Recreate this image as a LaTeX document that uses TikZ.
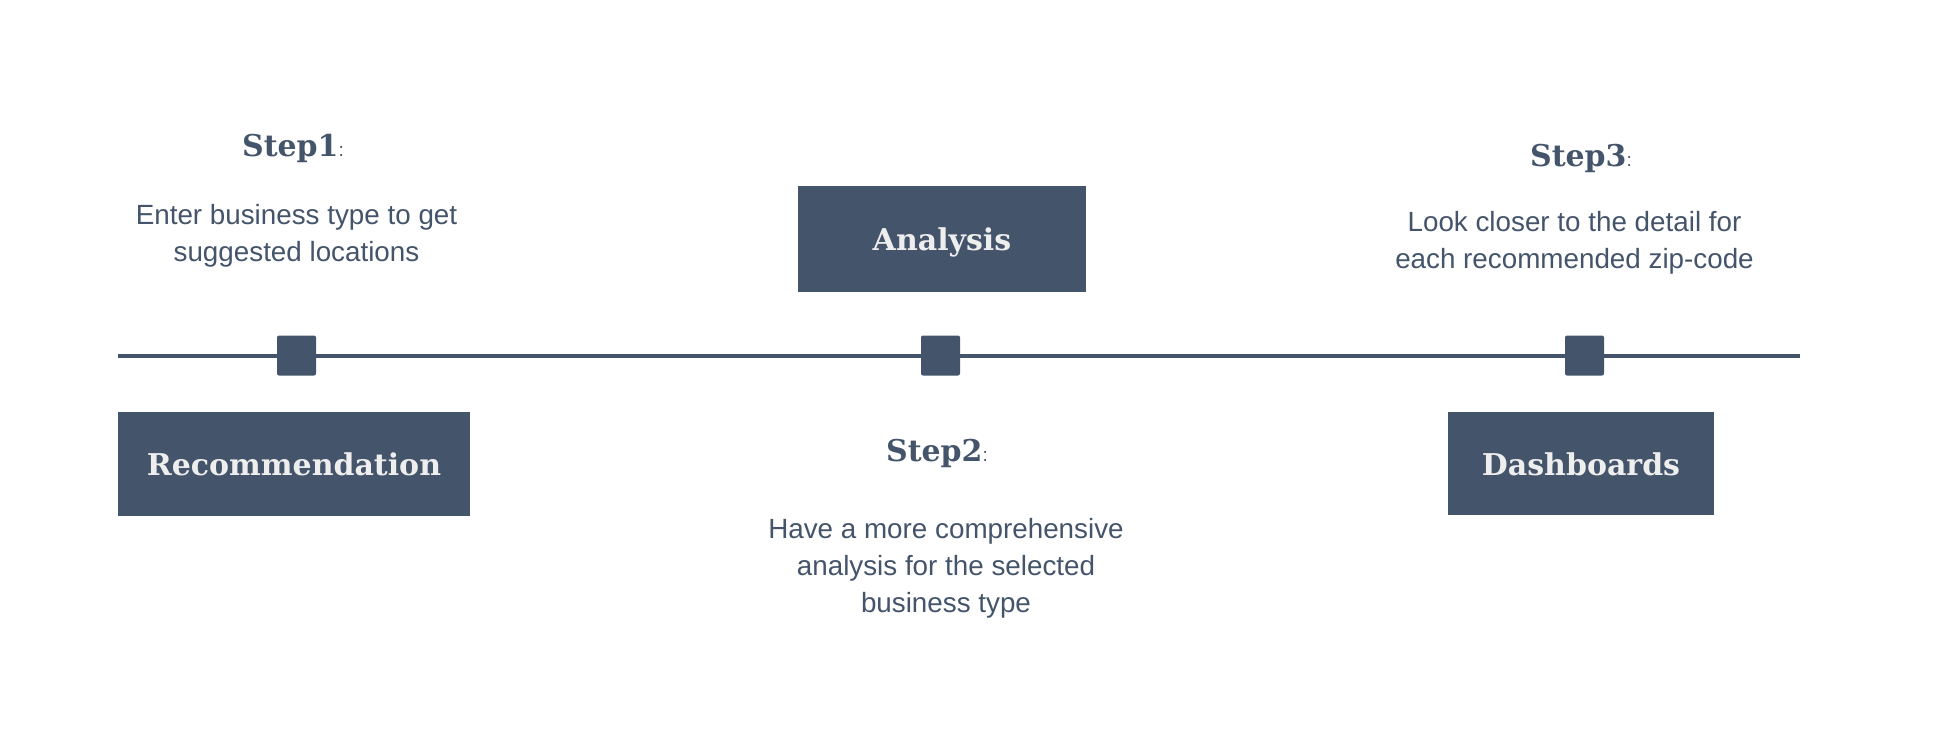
\documentclass[tikz,border=0pt]{standalone}
\usepackage{fontspec}
\setmainfont{Liberation Sans}
\newfontfamily\headfont{DejaVu Serif}
\definecolor{slate}{HTML}{44546A}
\definecolor{boxtext}{HTML}{EEEEEE}
\begin{document}
\begin{tikzpicture}[x=0.5pt,y=-0.5pt,
  panel/.style={fill=slate, draw=none, inner sep=0pt, text=boxtext,
    font=\headfont\bfseries\fontsize{15}{18}\selectfont,
    text height=11.5pt, text depth=0pt},
  marker/.style={fill=slate, draw=none, inner sep=0pt, minimum width=19.5pt,
    minimum height=20pt, rounded corners=1pt},
  heading/.style={anchor=base, inner sep=0pt, text=slate,
    font=\headfont\bfseries\fontsize{15}{18}\selectfont},
  body/.style={anchor=base, inner sep=0pt, text=slate, align=center,
    font=\fontsize{13.9}{18.5}\selectfont},
  timeline/.style={draw=slate, line width=2pt}]
\useasboundingbox (0,0) rectangle (1944,730);
% timeline
\coordinate (tlstart) at (118,355.5);
\coordinate (tlend) at (1800,355.5);
\node[marker] (m1) at (296.5,355.5) {};
\node[marker] (m2) at (940.5,355.5) {};
\node[marker] (m3) at (1584.5,355.5) {};
\draw[timeline] (tlstart) -- (m1) -- (m2) -- (m3) -- (tlend);
% boxes
\node[panel, minimum width=176pt, minimum height=52pt] (rec) at (294,464) {Recommendation};
\node[panel, minimum width=144pt, minimum height=53pt] (ana) at (942,239) {Analysis};
\node[panel, minimum width=133pt, minimum height=51.5pt] (dash) at (1581,463.5) {Dashboards};
% headings
\newcommand{\smallcolon}{{\normalfont\fontsize{9.5}{10}\selectfont:}}
\node[heading] (h1) at (293,156) {Step1\smallcolon};
\node[heading] (h2) at (937,461) {Step2\smallcolon};
\node[heading] (h3) at (1581,166) {Step3\smallcolon};
% descriptions (anchor base = baseline of the last line)
\node[body] (t1) at (296.5,261) {Enter business type to get\\suggested locations};
\node[body] (t2) at (946,612) {Have a more comprehensive\\analysis for the selected\\business type};
\node[body] (t3) at (1574.5,268) {Look closer to the detail for\\each recommended zip-code};
\end{tikzpicture}
\end{document}
